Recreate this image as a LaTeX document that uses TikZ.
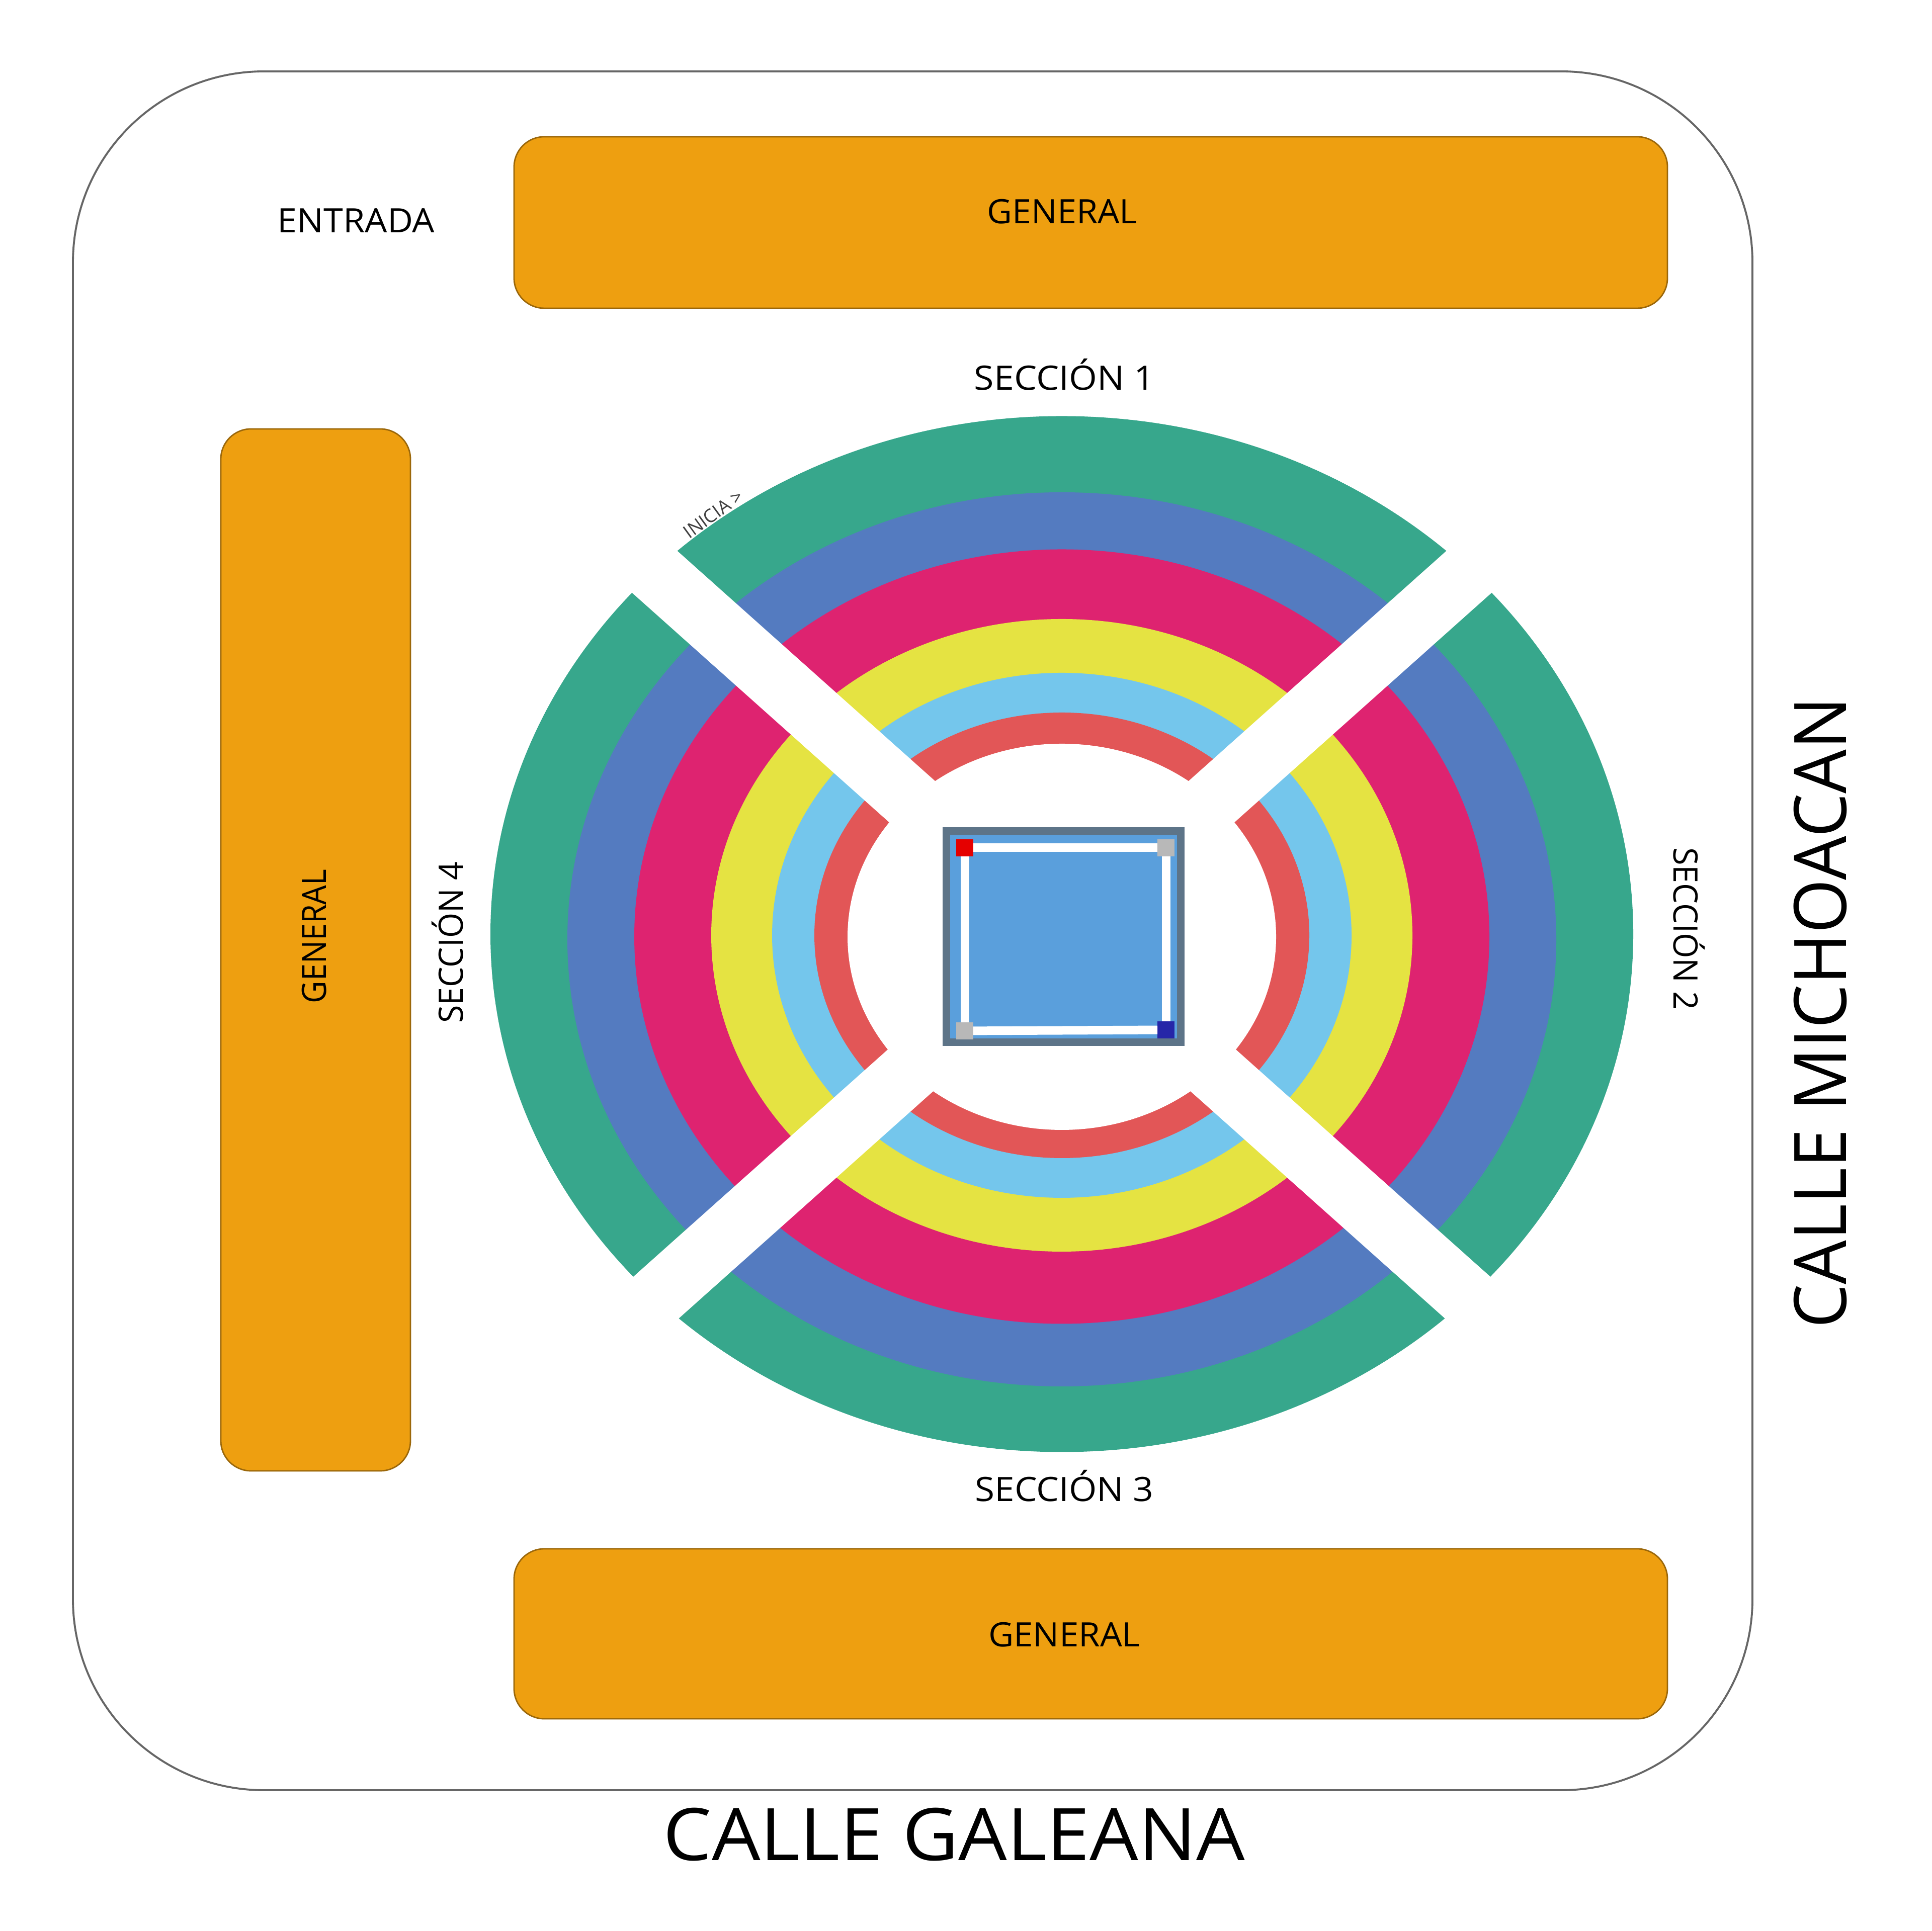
\documentclass[tikz,border=0pt]{standalone}
\usepackage{fontspec}
\setmainfont{Open Sans}
\definecolor{orangebox}{HTML}{EE9F10}
\definecolor{ringgreen}{HTML}{37A78C}
\definecolor{ringblue}{HTML}{547BC0}
\definecolor{ringpink}{HTML}{DE2370}
\definecolor{ringyellow}{HTML}{E5E342}
\definecolor{ringsky}{HTML}{74C6EC}
\definecolor{ringred}{HTML}{E25657}
\definecolor{ringfill}{HTML}{5A9FDC}
\definecolor{ringedge}{HTML}{5D7488}
\newcommand{\stretchtext}[2]{\scalebox{#1}[1]{#2}}
\tikzset{
    generalbox/.style={draw=black!35!orangebox,fill=orangebox,line width=0.8pt,rounded corners=0.6cm},
    gapline/.style={draw=white,line width=1.22cm},
    mark box/.style={minimum size=0.34cm,inner sep=0pt,outer sep=0pt},
    ropeline/.style={draw=white,line width=0.17cm},
    smalltext/.style={font=\fontsize{19}{19}\selectfont,inner sep=0pt},
    bigtext/.style={font=\fontsize{41}{41}\selectfont,inner sep=0pt}
}
\begin{document}
\begin{tikzpicture}
    \useasboundingbox (0, 0) rectangle (38.4, 38.4);
    \fill[white] (0, 0) rectangle (38.4, 38.4);
    \draw[black!60,line width=1.1pt,rounded corners=3.8cm] (1.45, 2.80) rectangle (34.84, 36.98);
    % seating blocks
    \draw[generalbox] (10.22, 32.27) rectangle (33.15, 35.68);
    \draw[generalbox] (4.39, 9.15) rectangle (8.16, 29.87);
    \draw[generalbox] (10.22, 4.22) rectangle (33.15, 7.60);
    % rings
    \foreach \rx/\ry/\cy/\col in {11.36/10.30/19.825/ringgreen, 9.83/8.89/19.72/ringblue, 8.50/7.70/19.775/ringpink, 6.97/6.29/19.80/ringyellow, 5.76/5.22/19.80/ringsky, 4.92/4.43/19.80/ringred, 4.26/3.84/19.77/white}
        \fill[\col] (21.11, \cy) ellipse ({\rx} and {\ry});
    % aisles
    \coordinate (nw) at (12.61, 27.39);
    \coordinate (se) at (29.61, 12.21);
    \coordinate (ne) at (29.61, 27.39);
    \coordinate (sw) at (12.61, 12.21);
    \draw[gapline] (nw) -- (se);
    \draw[gapline] (ne) -- (sw);
    % ring in the middle
    \draw[draw=ringedge,fill=ringfill,line width=0.15cm] (18.81, 17.67) rectangle (23.47, 21.87);
    \node[mark box,fill=red!90!black] (m1) at (19.18, 21.54) {};
    \node[mark box,fill=black!28] (m2) at (23.18, 21.54) {};
    \node[mark box,fill=blue!60!black!85!white] (m3) at (23.18, 17.92) {};
    \node[mark box,fill=black!28] (m4) at (19.18, 17.90) {};
    \draw[ropeline] (m1) -- (m2);
    \draw[ropeline] (m2) -- (m3);
    \draw[ropeline] (m3) -- (m4);
    \draw[ropeline] (m4) -- (m1);
    % labels
    \node[smalltext] (entrada) at (7.08, 34.01) {\stretchtext{1.05}{ENTRADA}};
    \node[smalltext] (gen1) at (21.12, 34.19) {\stretchtext{1.025}{GENERAL}};
    \node[smalltext] (gen2) at (6.25, 19.78) [rotate=90] {\stretchtext{0.915}{GENERAL}};
    \node[smalltext] (gen3) at (21.16, 5.89) {\stretchtext{1.035}{GENERAL}};
    \node[smalltext] (sec1) at (21.16, 30.95) {\stretchtext{1.075}{SECCIÓN 1}};
    \node[smalltext] (sec2) at (33.58, 19.93) [rotate=-90] {\stretchtext{0.97}{SECCIÓN 2}};
    \node[smalltext] (sec3) at (21.16, 8.85) {\stretchtext{1.065}{SECCIÓN 3}};
    \node[smalltext] (sec4) at (8.90, 19.66) [rotate=90] {\stretchtext{0.965}{SECCIÓN 4}};
    \node[smalltext,font=\fontsize{10.5}{10.5}\selectfont,text=black!75] (inicia) at (14.18, 28.18) [rotate=36] {INICIA >};
    \node[bigtext] (galeana) at (18.97, 1.92) {\stretchtext{1.06}{CALLE GALEANA}};
    \node[bigtext] (michoacan) at (36.19, 18.26) [rotate=90] {\stretchtext{0.962}{CALLE MICHOACAN}};
\end{tikzpicture}
\end{document}
